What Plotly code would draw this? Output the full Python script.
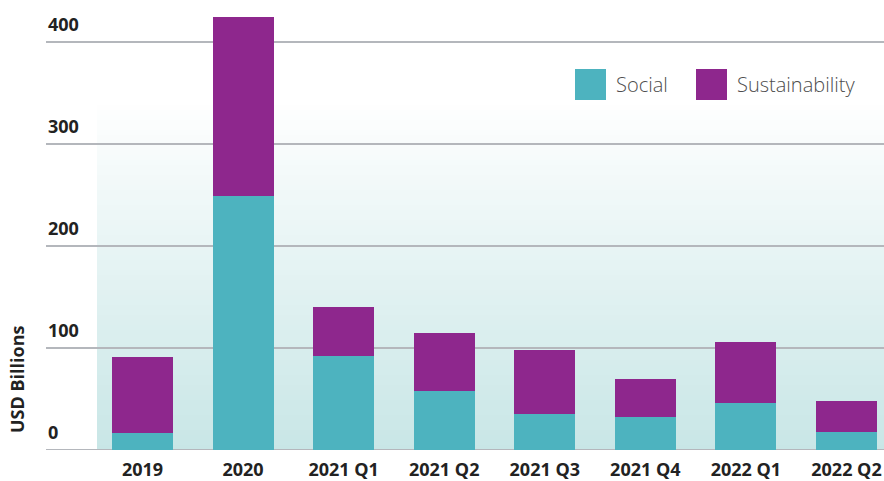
import plotly.graph_objects as go

categories = ["2019", "2020", "2021 Q1", "2021 Q2", "2021 Q3", "2021 Q4", "2022 Q1", "2022 Q2"]
social = [17, 249, 92, 58, 35, 32, 46, 18]
sustainability = [74, 176, 48, 57, 63, 38, 60, 30]
y_ticks = [0, 100, 200, 300, 400]

TEAL = "#4db3bf"
PURPLE = "#8e278d"
FONT = "Open Sans"
DARK = "#222222"

W, H = 884, 481
ML, MR, MT, MB = 92, 0, 10, 31
PW = W - ML - MR
PH = H - MT - MB
PX_PER_UNIT = 1.02
y_max = PH / PX_PER_UNIT
step = 100.57
r0 = -(142.5 - ML) / step
r1 = r0 + PW / step

fig = go.Figure()
fig.add_trace(go.Bar(x=categories, y=social, name="Social", marker_color=TEAL,
                     marker_line_width=0, width=0.607, showlegend=False))
fig.add_trace(go.Bar(x=categories, y=sustainability, name="Sustainability", marker_color=PURPLE,
                     marker_line_width=0, width=0.607, showlegend=False))


def px_x(p):
    return (p - ML) / PW


def px_y(p):
    return 1 - (p - MT) / PH


shapes = []
# gradient background (styling)
g_top = (450 - 100) / PX_PER_UNIT
n = 70
top_rgb = (255, 255, 255)
bot_rgb = (200, 230, 230)
gx0 = px_x(97)
for i in range(n):
    f0 = i / n
    f1 = (i + 1) / n
    fm = (f0 + f1) / 2
    c = tuple(round(bot_rgb[k] + (top_rgb[k] - bot_rgb[k]) * fm) for k in range(3))
    shapes.append(dict(type="rect", xref="paper", yref="y", x0=gx0, x1=1,
                       y0=g_top * f0, y1=g_top * f1 + 0.5, layer="below",
                       fillcolor="rgb(%d,%d,%d)" % c, line_width=0))

gl_x0 = px_x(46)
for t in y_ticks:
    shapes.append(dict(type="line", xref="paper", yref="y", x0=gl_x0, x1=1, y0=t, y1=t,
                       layer="below", line=dict(color="#b4b7bc", width=2)))

# legend swatches
shapes.append(dict(type="rect", xref="paper", yref="paper", x0=px_x(575), x1=px_x(606),
                   y0=px_y(100), y1=px_y(69), fillcolor=TEAL, line_width=0))
shapes.append(dict(type="rect", xref="paper", yref="paper", x0=px_x(696), x1=px_x(727),
                   y0=px_y(100), y1=px_y(69), fillcolor=PURPLE, line_width=0))

annotations = []
for t in y_ticks:
    annotations.append(dict(x=gl_x0, xref="paper", y=t, yref="y", text=str(t), showarrow=False,
                            xanchor="left", yanchor="middle", yshift=18,
                            font=dict(family=FONT, size=18, color=DARK, weight="bold")))
annotations.append(dict(x=px_x(17), xref="paper", y=px_y(379), yref="paper", text="USD Billions",
                        textangle=-90, showarrow=False, xanchor="center", yanchor="middle",
                        font=dict(family=FONT, size=18, color=DARK, weight="bold")))
annotations.append(dict(x=px_x(614), xref="paper", y=px_y(84.5), yref="paper", text="Social",
                        showarrow=False, xanchor="left", yanchor="middle",
                        font=dict(family=FONT, size=20, color="#4d4d4d", weight=300)))
annotations.append(dict(x=px_x(735), xref="paper", y=px_y(84.5), yref="paper", text="Sustainability",
                        showarrow=False, xanchor="left", yanchor="middle",
                        font=dict(family=FONT, size=20, color="#4d4d4d", weight=300)))

fig.update_layout(
    width=W, height=H,
    margin=dict(l=ML, r=MR, t=MT, b=MB, pad=0, autoexpand=False),
    barmode="stack",
    plot_bgcolor="rgba(0,0,0,0)",
    paper_bgcolor="white",
    shapes=shapes,
    annotations=annotations,
    showlegend=False,
    xaxis=dict(range=[r0, r1], showgrid=False, zeroline=False, showline=False, automargin=False,
               ticks="outside", ticklen=3, tickcolor="rgba(0,0,0,0)",
               tickfont=dict(family=FONT, size=18, color=DARK, weight="bold")),
    yaxis=dict(range=[0, y_max], showgrid=False, zeroline=False, showline=False, automargin=False,
               showticklabels=False),
)

fig.write_html("out.html", config={"displayModeBar": False},
               post_script="document.body.style.margin='0';document.body.style.overflow='hidden';")
